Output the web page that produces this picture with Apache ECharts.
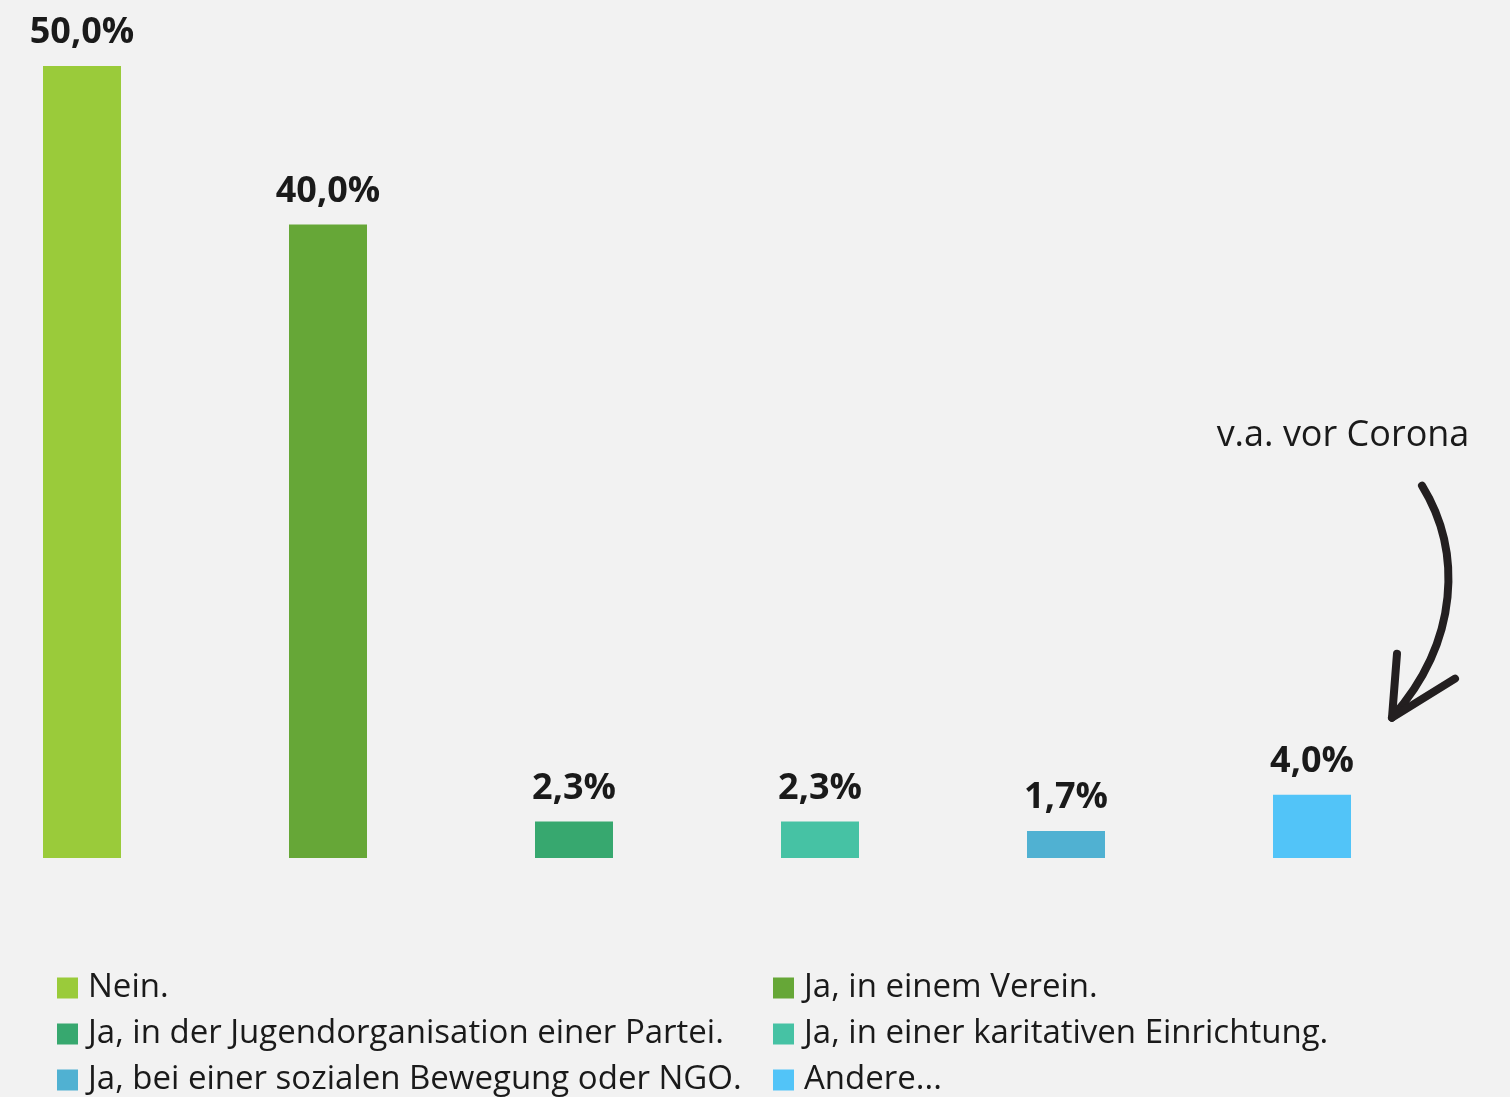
<!DOCTYPE html>
<html>
<head>
<meta charset="utf-8">
<script src="https://cdn.jsdelivr.net/npm/echarts@6/dist/echarts.min.js"></script>
<style>
  html, body { margin: 0; padding: 0; background: #f2f2f2; }
  #chart { width: 1510px; height: 1097px; }
</style>
</head>
<body>
<div id="chart"></div>
<script>
// Engagement answers and their shares in percent
const categories = [
  'Nein.',
  'Ja, in einem Verein.',
  'Ja, in der Jugendorganisation einer Partei.',
  'Ja, in einer karitativen Einrichtung.',
  'Ja, bei einer sozialen Bewegung oder NGO.',
  'Andere...'
];
const shares = [50.0, 40.0, 2.3, 2.3, 1.7, 4.0];
const colors = ['#9acb3a', '#66a737', '#37a86f', '#46c2a4', '#50b1d2', '#52c4f8'];
const noteText = 'v.a. vor Corona';
const noteIndex = 5;

const fmt = v => v.toFixed(1).replace('.', ',') + '%';

const chart = echarts.init(document.getElementById('chart'), null, { renderer: 'canvas' });

// One series per answer so each gets its own legend entry; stacking keeps bars centred
const series = categories.map((name, i) => ({
  name: name,
  type: 'bar',
  stack: 'all',
  barWidth: 78,
  itemStyle: { color: colors[i] },
  label: {
    show: true,
    position: 'top',
    distance: 15,
    formatter: p => fmt(p.value),
    fontFamily: 'Open Sans',
    fontWeight: 'bold',
    fontSize: 36,
    color: '#1a1a1a'
  },
  data: categories.map((c, j) => (j === i ? shares[i] : null))
}));

chart.setOption({
  backgroundColor: '#f2f2f2',
  animation: false,
  grid: { left: 82, width: 1230, top: 66, bottom: 239 },
  xAxis: {
    type: 'category',
    data: categories,
    boundaryGap: false,
    show: false
  },
  yAxis: {
    type: 'value',
    min: 0,
    max: 50,
    show: false
  },
  legend: {
    left: 57,
    top: 965,
    width: 1440,
    padding: 0,
    itemGap: 0,
    itemWidth: 21,
    itemHeight: 21,
    icon: 'rect',
    textStyle: {
      fontFamily: 'Open Sans',
      fontSize: 33,
      color: '#1a1a1a',
      width: 685,
      lineHeight: 46,
      padding: [0, 0, 0, 5]
    },
    data: categories
  },
  series: series
});

// Annotation with a hand-drawn style arrow pointing at the "Andere..." bar
const tip = chart.convertToPixel({ gridIndex: 0 }, [noteIndex, shares[noteIndex]]);
const tx = tip[0] + 80;
const ty = tip[1] - 77;
const arrowStyle = {
  fill: null,
  stroke: '#231f20',
  lineWidth: 8,
  lineCap: 'round',
  lineJoin: 'round'
};
chart.setOption({
  graphic: [
    {
      type: 'text',
      x: tx - 49,
      y: ty - 282,
      style: {
        text: noteText,
        fontFamily: 'Open Sans',
        fontSize: 36,
        fill: '#1a1a1a',
        align: 'center',
        verticalAlign: 'middle'
      }
    },
    {
      type: 'bezierCurve',
      shape: {
        x1: tx + 30, y1: ty - 232,
        cpx1: tx + 70, cpy1: ty - 167,
        cpx2: tx + 68, cpy2: ty - 77,
        x2: tx, y2: ty
      },
      style: arrowStyle
    },
    {
      type: 'polyline',
      shape: {
        points: [[tx + 5, ty - 64], [tx, ty], [tx + 63, ty - 39]]
      },
      style: arrowStyle
    }
  ]
});
</script>
</body>
</html>
